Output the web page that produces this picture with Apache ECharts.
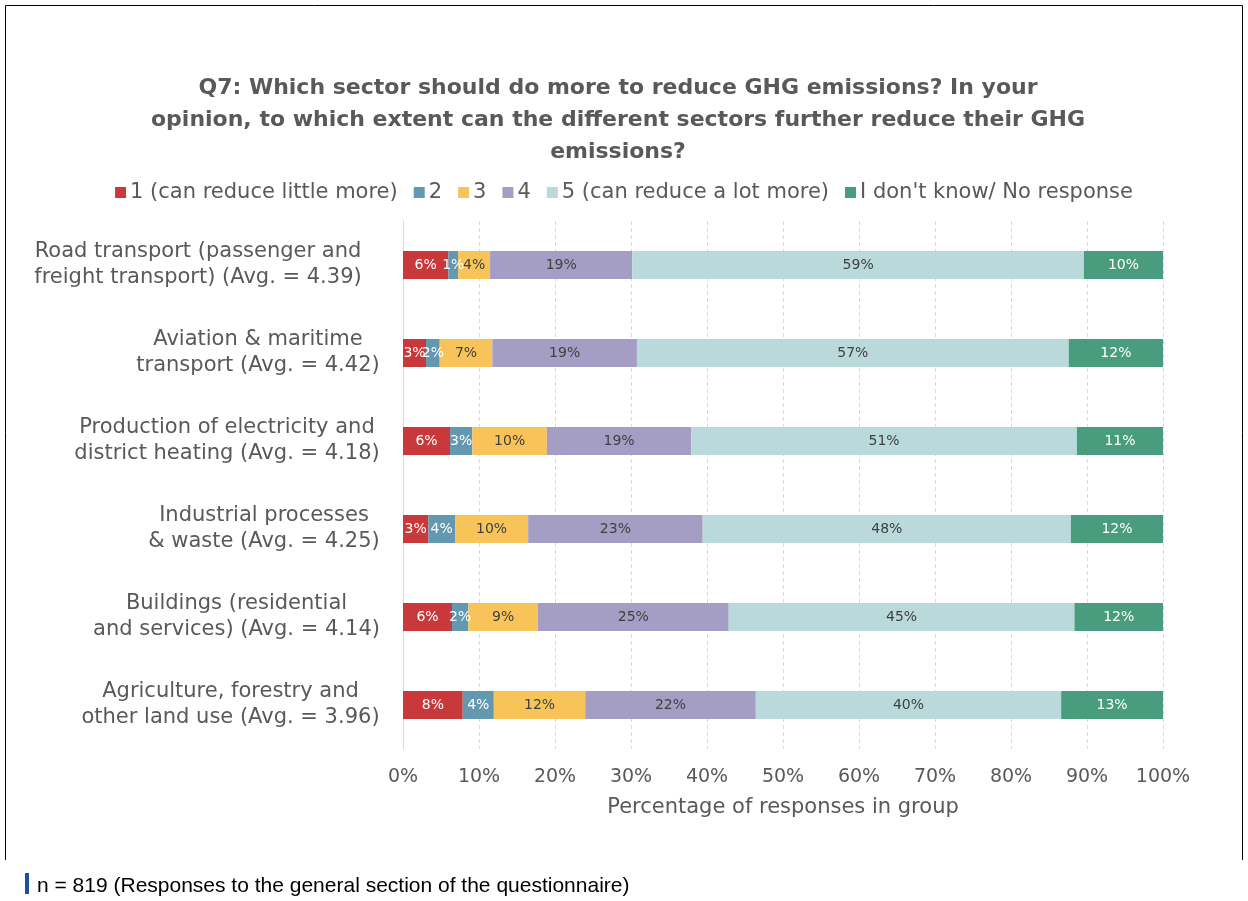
<!DOCTYPE html>
<html>
<head>
<meta charset="utf-8">
<style>
  html, body { margin: 0; padding: 0; background: #ffffff; }
  #chart { width: 1248px; height: 901px; }
</style>
<script src="https://cdn.jsdelivr.net/npm/echarts@6/dist/echarts.min.js"></script>
</head>
<body>
<div id="chart"></div>
<script>
// Sectors, top to bottom
const sectors = [
  'Road transport (passenger and\nfreight transport) (Avg. = 4.39)',
  'Aviation & maritime\ntransport (Avg. = 4.42)',
  'Production of electricity and\ndistrict heating (Avg. = 4.18)',
  'Industrial processes\n& waste (Avg. = 4.25)',
  'Buildings (residential\nand services) (Avg. = 4.14)',
  'Agriculture, forestry and\nother land use (Avg. = 3.96)'
];

// Share of responses (%) per answer, one value per sector
const score1    = [5.97, 3.03, 6.19, 3.34, 6.45, 7.86];
const score2    = [1.28, 1.80, 2.94, 3.51, 2.15, 4.09];
const score3    = [4.21, 6.93, 9.80, 9.62, 9.14, 12.03];
const score4    = [18.71, 19.02, 19.01, 22.96, 25.12, 22.44];
const score5    = [59.43, 56.82, 50.73, 48.45, 45.49, 40.18];
const dontKnow  = [10.40, 12.40, 11.33, 12.12, 11.65, 13.40];

const seriesNames = [
  '1 (can reduce little more)',
  '2',
  '3',
  '4',
  '5 (can reduce a lot more)',
  "I don't know/ No response"
];

const xTicks = [0, 10, 20, 30, 40, 50, 60, 70, 80, 90, 100];

const colors = ['#c9393b', '#6398b0', '#f8c45a', '#a49ec4', '#bad9db', '#4a9c7e'];
const labelColors = ['#ffffff', '#ffffff', '#404040', '#404040', '#404040', '#ffffff'];
const FONT = '"DejaVu Sans", sans-serif';
const GREY = '#595959';
const CAT_FONT_SIZE = 21;

const values = [score1, score2, score3, score4, score5, dontKnow];

// Category labels: each block is right-aligned at the axis, its lines centred within it
const measureCtx = document.createElement('canvas').getContext('2d');
measureCtx.font = CAT_FONT_SIZE + 'px ' + FONT;
const catRich = {};
sectors.forEach((s, i) => {
  const w = Math.max(...s.split('\n').map(l => measureCtx.measureText(l).width));
  catRich['r' + i] = {
    width: Math.ceil(w) + 2,
    align: 'center',
    fontFamily: FONT,
    fontSize: CAT_FONT_SIZE,
    color: GREY,
    lineHeight: 26,
    padding: i === 0 ? [0, 18, 0, 0] : 0
  };
});

const chart = echarts.init(document.getElementById('chart'));

chart.setOption({
  backgroundColor: '#ffffff',
  animation: false,
  textStyle: { fontFamily: FONT },
  title: {
    text: 'Q7: Which sector should do more to reduce GHG emissions? In your\nopinion, to which extent can the different sectors further reduce their GHG\nemissions?',
    left: 613,
    textAlign: 'center',
    top: 67,
    textStyle: {
      fontFamily: FONT,
      fontSize: 22,
      fontWeight: 'bold',
      color: GREY,
      lineHeight: 32
    }
  },
  legend: {
    data: seriesNames,
    left: 'center',
    top: 177,
    icon: 'rect',
    itemWidth: 11,
    itemHeight: 11,
    itemGap: 16,
    textStyle: { fontFamily: FONT, fontSize: 21, color: GREY, padding: [0, 0, 0, -1] }
  },
  grid: {
    left: 403,
    right: 85,
    top: 221,
    bottom: 152,
    containLabel: false
  },
  xAxis: {
    type: 'value',
    min: 0,
    max: 100,
    interval: 10,
    name: 'Percentage of responses in group',
    nameLocation: 'middle',
    nameGap: 48,
    nameTextStyle: { fontFamily: FONT, fontSize: 21, color: GREY },
    axisLine: { show: false },
    axisTick: { show: false },
    axisLabel: {
      fontFamily: FONT,
      fontSize: 19,
      color: GREY,
      margin: 19,
      formatter: v => (xTicks.includes(v) ? v + '%' : '')
    },
    splitLine: { show: true, lineStyle: { color: '#d9d9d9', type: [4, 3], width: 1 } }
  },
  yAxis: {
    type: 'category',
    data: sectors,
    inverse: true,
    axisLine: { show: true, lineStyle: { color: '#d9d9d9' } },
    axisTick: { show: false },
    axisLabel: {
      fontFamily: FONT,
      fontSize: CAT_FONT_SIZE,
      color: GREY,
      lineHeight: 26,
      margin: 22,
      align: 'right',
      formatter: (value, idx) => value.split('\n').map(l => '{r' + idx + '|' + l + '}').join('\n'),
      rich: catRich
    }
  },
  series: values.map((arr, i) => ({
    name: seriesNames[i],
    type: 'bar',
    stack: 'total',
    data: arr,
    barWidth: 28,
    itemStyle: { color: colors[i] },
    label: {
      show: true,
      position: 'inside',
      fontFamily: FONT,
      fontSize: 14,
      color: labelColors[i],
      formatter: p => Math.round(p.value) + '%'
    }
  })),
  graphic: [
    {
      type: 'polyline',
      shape: { points: [[5.5, 860], [5.5, 5.5], [1242.5, 5.5], [1242.5, 860]] },
      style: { stroke: '#000000', lineWidth: 1, fill: null },
      silent: true
    },
    {
      type: 'rect',
      shape: { x: 25, y: 873, width: 4, height: 21 },
      style: { fill: '#1f4e9c' },
      silent: true
    },
    {
      type: 'text',
      left: 37,
      top: 876,
      style: {
        text: 'n = 819 (Responses to the general section of the questionnaire)',
        font: '21px "Liberation Sans", Arial, sans-serif',
        fill: '#000000'
      },
      silent: true
    }
  ]
});
</script>
</body>
</html>
